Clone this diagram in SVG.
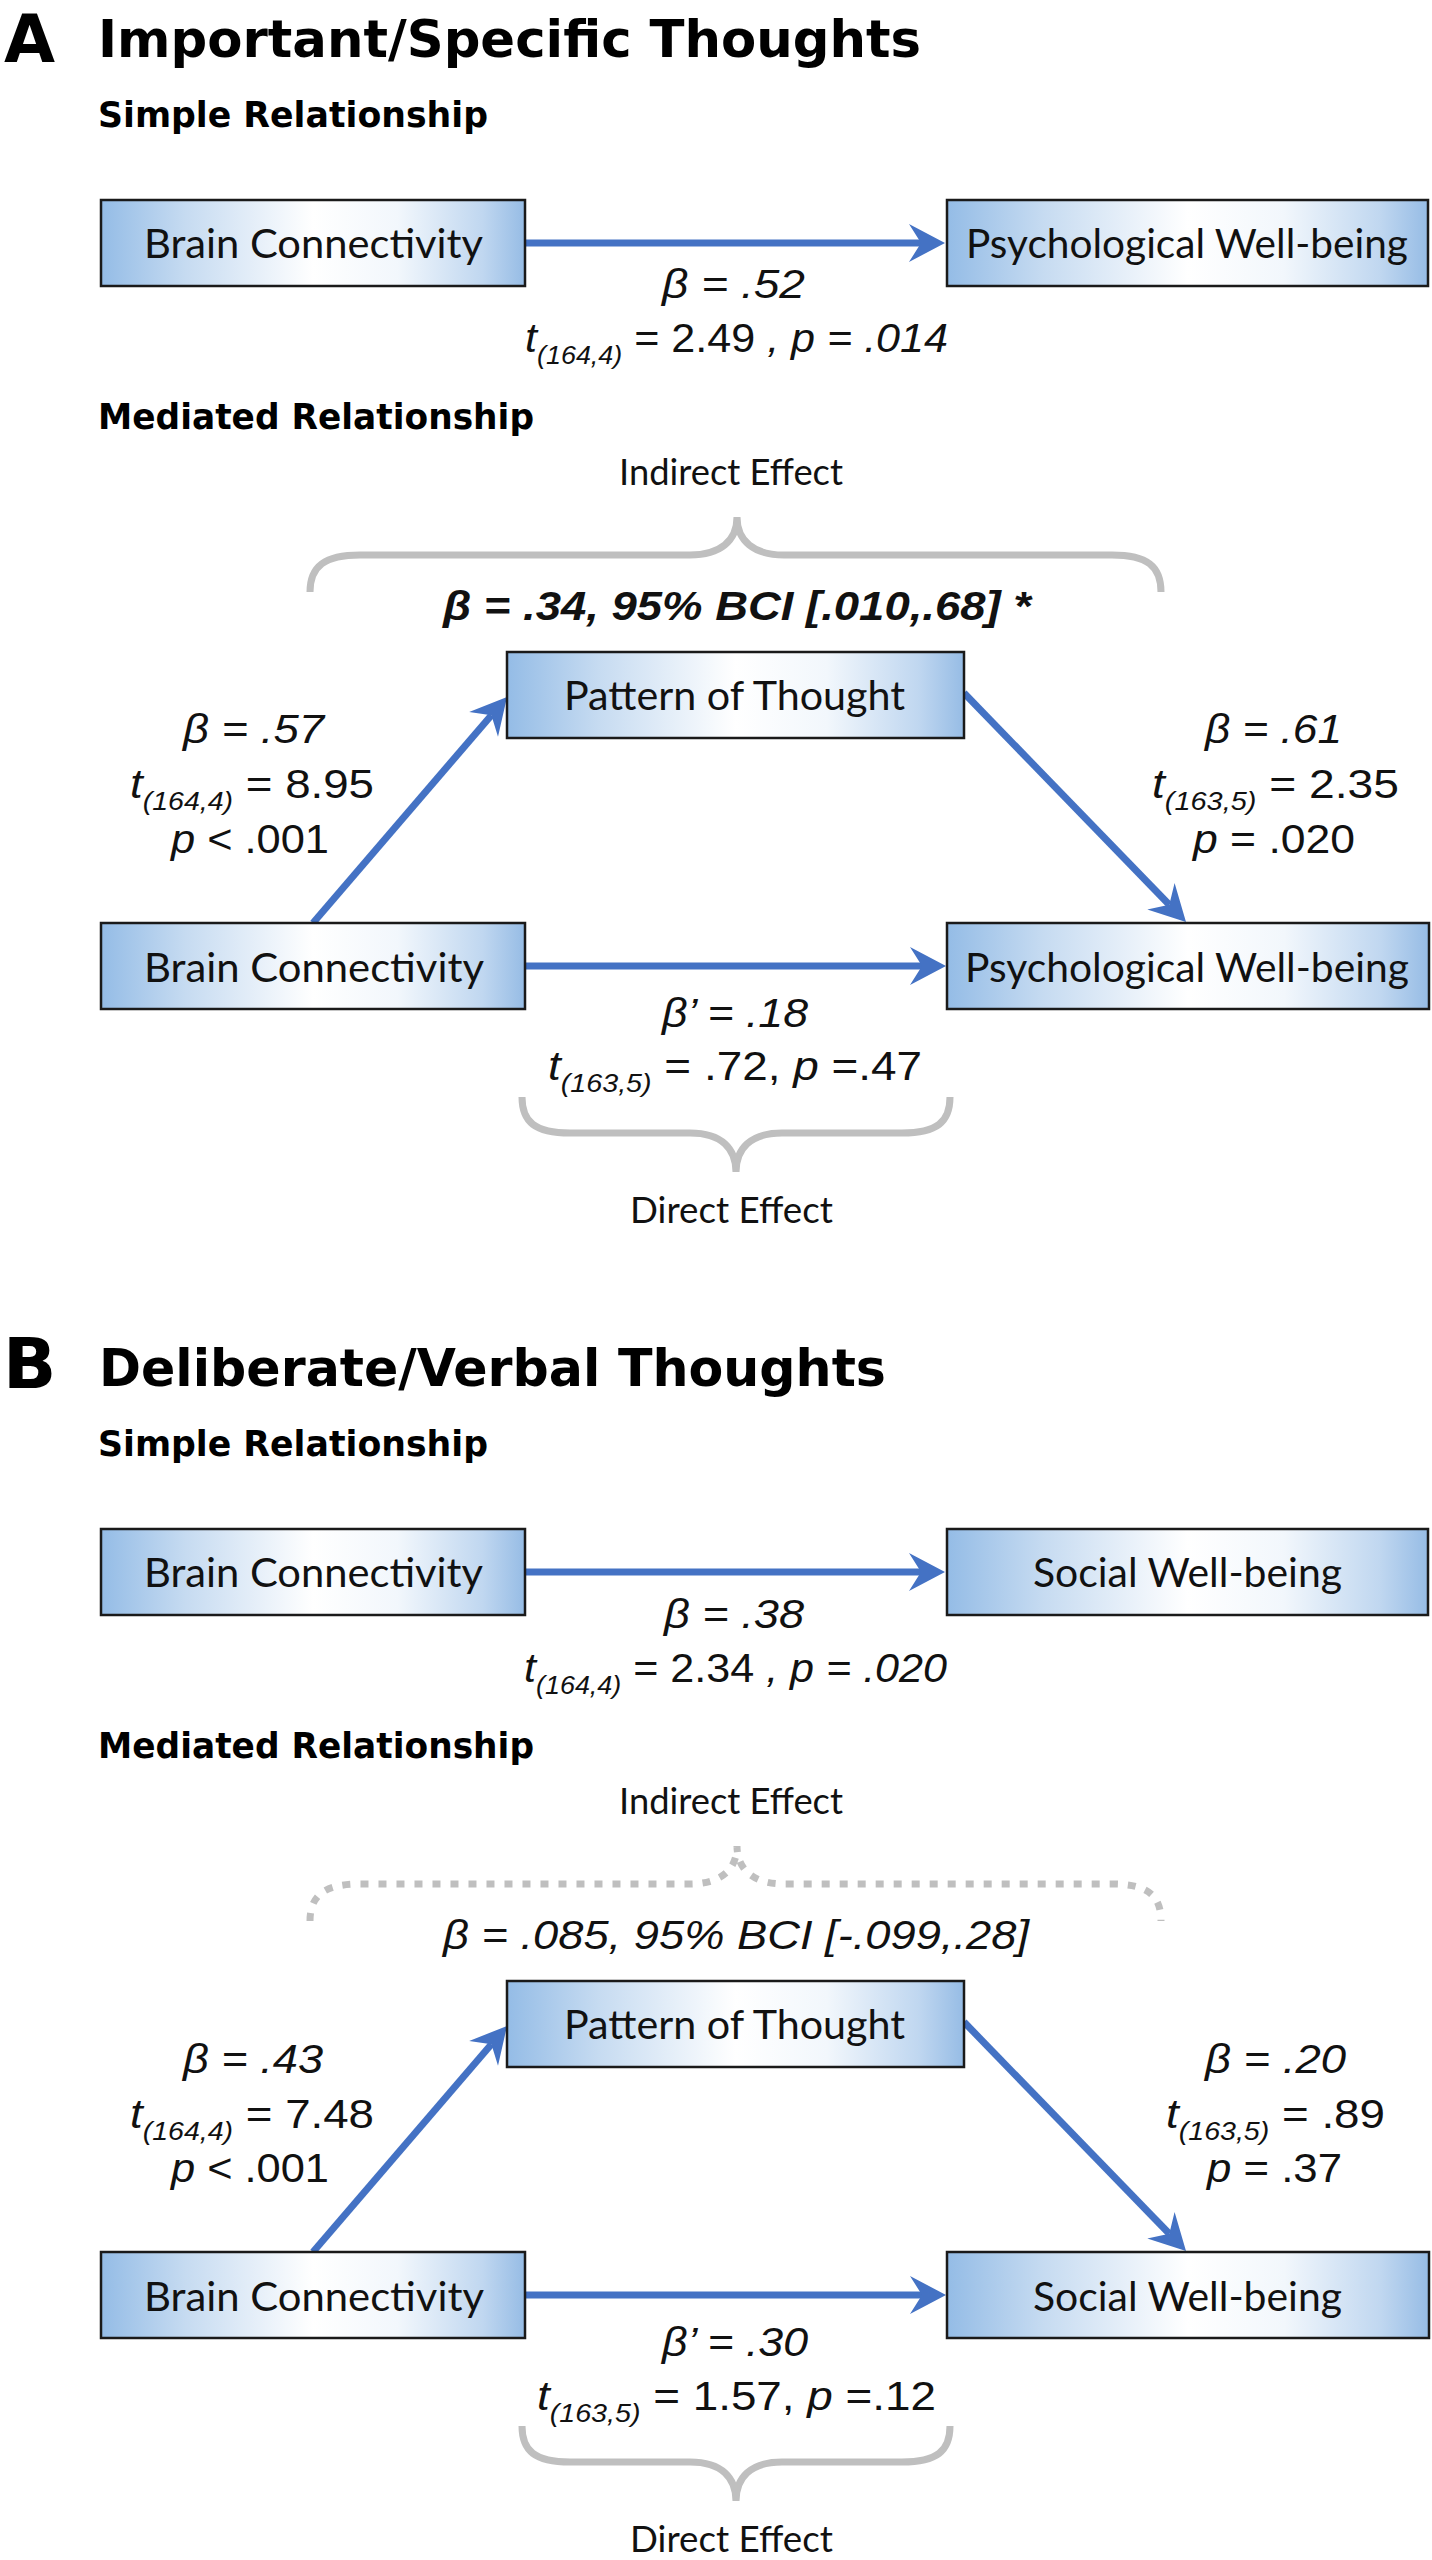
<svg xmlns="http://www.w3.org/2000/svg" width="1432" height="2560" viewBox="0 0 1432 2560">
<style>
.panel{font-family:"DejaVu Sans",Verdana,sans-serif;font-weight:bold;fill:#000}
.sect{font-family:"DejaVu Sans",Verdana,sans-serif;font-weight:bold;font-size:36px;fill:#000}
.lbl{font-family:Lato,"Open Sans",sans-serif;font-size:40px;fill:#111}
.eff{font-family:Lato,"Open Sans",sans-serif;font-size:37px;fill:#111}
.stat{font-family:"Liberation Sans",Arial,sans-serif;font-size:40px;fill:#111}
.it{font-style:italic}
.sub{font-size:25px;font-style:italic}
.box{fill:url(#boxgrad);stroke:#1a1a1a;stroke-width:2.5}
.arrow{stroke:#4472c4;stroke-width:7;fill:none;marker-end:url(#ah)}
.brace{stroke:#bfbfbf;stroke-width:7;fill:none;stroke-linecap:butt}
.dotted{stroke-dasharray:8 10}
</style>
<defs>
<linearGradient id="boxgrad" x1="0" y1="0" x2="1" y2="0">
<stop offset="0" stop-color="#94bce6"/>
<stop offset="0.2" stop-color="#c6dbf1"/>
<stop offset="0.5" stop-color="#ffffff"/>
<stop offset="0.7" stop-color="#f2f7fc"/>
<stop offset="0.9" stop-color="#c0d7f0"/>
<stop offset="1" stop-color="#96bce5"/>
</linearGradient>
<marker id="ah" viewBox="-38 -20 40 40" refX="-24" refY="0" markerWidth="40" markerHeight="40" markerUnits="userSpaceOnUse" orient="auto">
<path d="M0,0 L-36,-19 L-24,0 L-36,19 Z" fill="#4472c4"/>
</marker>
</defs>
<rect width="1432" height="2560" fill="#fff"/>

<!-- ===== Panel A ===== -->
<g id="panelA-heading">
<text class="panel" x="4" y="62" font-size="66">A</text>
<text class="panel" x="98" y="57" font-size="52" textLength="823" lengthAdjust="spacingAndGlyphs">Important/Specific Thoughts</text>
<text class="sect" x="98" y="127" textLength="390" lengthAdjust="spacingAndGlyphs">Simple Relationship</text>
<text class="sect" x="98" y="429" textLength="436" lengthAdjust="spacingAndGlyphs">Mediated Relationship</text>
</g>

<g id="connectorsA">
<line class="arrow" x1="525" y1="243" x2="921" y2="243"/>
<line class="arrow" x1="313" y1="923" x2="491.4" y2="715.2"/>
<line class="arrow" x1="964" y1="693" x2="1169.3" y2="904.8"/>
<line class="arrow" x1="525" y1="966" x2="922" y2="966"/>
<path class="brace" d="M310,592 C310,566 325,555 360,555 L690,555 C720,555 737,541 737,517 C737,541 754,555 784,555 L1112,555 C1147,555 1161,566 1161,592"/>
<path class="brace" d="M522,1097 C522,1122 535,1133 570,1133 L690,1133 C722,1133 736,1149 736,1172 C736,1149 750,1133 782,1133 L902,1133 C937,1133 950,1122 950,1097"/>
</g>

<g id="A-simple-bc">
<rect class="box" x="101" y="200" width="424" height="86"/>
<text class="lbl" x="144" y="258" textLength="339" lengthAdjust="spacingAndGlyphs">Brain Connectivity</text>
</g>
<g id="A-simple-pwb">
<rect class="box" x="947" y="200" width="481" height="86"/>
<text class="lbl" x="966" y="258" textLength="442" lengthAdjust="spacingAndGlyphs">Psychological Well-being</text>
</g>
<g id="A-simple-stats">
<text class="stat it" x="662" y="298" textLength="143" lengthAdjust="spacingAndGlyphs">β = .52</text>
<text class="stat" x="525" y="352" textLength="423" lengthAdjust="spacingAndGlyphs"><tspan class="it">t</tspan><tspan class="sub" dy="12">(164,4)</tspan><tspan dy="-12"> = 2.49 </tspan><tspan class="it">, p = .014</tspan></text>
</g>

<g id="A-indirect">
<text class="eff" x="619" y="485" textLength="224" lengthAdjust="spacingAndGlyphs">Indirect Effect</text>
<text class="stat it" x="443" y="620" font-weight="bold" font-size="42" textLength="588" lengthAdjust="spacingAndGlyphs">β = .34, 95% BCI [.010,.68] *</text>
</g>

<g id="A-pattern">
<rect class="box" x="507" y="652" width="457" height="86"/>
<text class="lbl" x="564" y="710" textLength="341" lengthAdjust="spacingAndGlyphs">Pattern of Thought</text>
</g>
<g id="A-path-a">
<text class="stat it" x="183" y="743" textLength="141" lengthAdjust="spacingAndGlyphs">β = .57</text>
<text class="stat" x="130" y="798" textLength="244" lengthAdjust="spacingAndGlyphs"><tspan class="it">t</tspan><tspan class="sub" dy="12">(164,4)</tspan><tspan dy="-12"> = 8.95</tspan></text>
<text class="stat" x="171" y="853" textLength="158" lengthAdjust="spacingAndGlyphs"><tspan class="it">p</tspan> &lt; .001</text>
</g>
<g id="A-path-b">
<text class="stat it" x="1205" y="743" textLength="137" lengthAdjust="spacingAndGlyphs">β = .61</text>
<text class="stat" x="1152" y="798" textLength="247" lengthAdjust="spacingAndGlyphs"><tspan class="it">t</tspan><tspan class="sub" dy="12">(163,5)</tspan><tspan dy="-12"> = 2.35</tspan></text>
<text class="stat" x="1193" y="853" textLength="162" lengthAdjust="spacingAndGlyphs"><tspan class="it">p</tspan> = .020</text>
</g>
<g id="A-med-bc">
<rect class="box" x="101" y="923" width="424" height="86"/>
<text class="lbl" x="144" y="982" textLength="340" lengthAdjust="spacingAndGlyphs">Brain Connectivity</text>
</g>
<g id="A-med-pwb">
<rect class="box" x="947" y="923" width="482" height="86"/>
<text class="lbl" x="965" y="982" textLength="444" lengthAdjust="spacingAndGlyphs">Psychological Well-being</text>
</g>
<g id="A-direct">
<text class="stat it" x="662" y="1027" textLength="146" lengthAdjust="spacingAndGlyphs">β’ = .18</text>
<text class="stat" x="548" y="1080" textLength="374" lengthAdjust="spacingAndGlyphs"><tspan class="it">t</tspan><tspan class="sub" dy="12">(163,5)</tspan><tspan dy="-12"> = .72, </tspan><tspan class="it">p</tspan> =.47</text>
<text class="eff" x="630" y="1223" textLength="203" lengthAdjust="spacingAndGlyphs">Direct Effect</text>
</g>

<!-- ===== Panel B ===== -->
<g id="panelB-heading">
<text class="panel" x="3" y="1388" font-size="70">B</text>
<text class="panel" x="99" y="1386" font-size="52" textLength="787" lengthAdjust="spacingAndGlyphs">Deliberate/Verbal Thoughts</text>
<text class="sect" x="98" y="1456" textLength="390" lengthAdjust="spacingAndGlyphs">Simple Relationship</text>
<text class="sect" x="98" y="1758" textLength="436" lengthAdjust="spacingAndGlyphs">Mediated Relationship</text>
</g>

<g id="connectorsB">
<line class="arrow" x1="525" y1="1572" x2="921" y2="1572"/>
<line class="arrow" x1="313" y1="2252" x2="491.4" y2="2044.2"/>
<line class="arrow" x1="964" y1="2022" x2="1169.3" y2="2233.8"/>
<line class="arrow" x1="525" y1="2295" x2="922" y2="2295"/>
<path class="brace dotted" d="M310,1921 C310,1895 325,1884 360,1884 L690,1884 C720,1884 737,1870 737,1846 C737,1870 754,1884 784,1884 L1112,1884 C1147,1884 1161,1895 1161,1921"/>
<path class="brace" d="M522,2426 C522,2451 535,2462 570,2462 L690,2462 C722,2462 736,2478 736,2501 C736,2478 750,2462 782,2462 L902,2462 C937,2462 950,2451 950,2426"/>
</g>

<g id="B-simple-bc">
<rect class="box" x="101" y="1529" width="424" height="86"/>
<text class="lbl" x="144" y="1587" textLength="339" lengthAdjust="spacingAndGlyphs">Brain Connectivity</text>
</g>
<g id="B-simple-swb">
<rect class="box" x="947" y="1529" width="481" height="86"/>
<text class="lbl" x="1033" y="1587" textLength="309" lengthAdjust="spacingAndGlyphs">Social Well-being</text>
</g>
<g id="B-simple-stats">
<text class="stat it" x="664" y="1628" textLength="140" lengthAdjust="spacingAndGlyphs">β = .38</text>
<text class="stat" x="524" y="1682" textLength="423" lengthAdjust="spacingAndGlyphs"><tspan class="it">t</tspan><tspan class="sub" dy="12">(164,4)</tspan><tspan dy="-12"> = 2.34 </tspan><tspan class="it">, p = .020</tspan></text>
</g>

<g id="B-indirect">
<text class="eff" x="619" y="1814" textLength="224" lengthAdjust="spacingAndGlyphs">Indirect Effect</text>
<text class="stat it" x="443" y="1949" font-size="42" textLength="586" lengthAdjust="spacingAndGlyphs">β = .085, 95% BCI [-.099,.28]</text>
</g>

<g id="B-pattern">
<rect class="box" x="507" y="1981" width="457" height="86"/>
<text class="lbl" x="564" y="2039" textLength="341" lengthAdjust="spacingAndGlyphs">Pattern of Thought</text>
</g>
<g id="B-path-a">
<text class="stat it" x="183" y="2073" textLength="140" lengthAdjust="spacingAndGlyphs">β = .43</text>
<text class="stat" x="130" y="2128" textLength="244" lengthAdjust="spacingAndGlyphs"><tspan class="it">t</tspan><tspan class="sub" dy="12">(164,4)</tspan><tspan dy="-12"> = 7.48</tspan></text>
<text class="stat" x="171" y="2182" textLength="158" lengthAdjust="spacingAndGlyphs"><tspan class="it">p</tspan> &lt; .001</text>
</g>
<g id="B-path-b">
<text class="stat it" x="1205" y="2073" textLength="141" lengthAdjust="spacingAndGlyphs">β = .20</text>
<text class="stat" x="1166" y="2128" textLength="219" lengthAdjust="spacingAndGlyphs"><tspan class="it">t</tspan><tspan class="sub" dy="12">(163,5)</tspan><tspan dy="-12"> = .89</tspan></text>
<text class="stat" x="1207" y="2182" textLength="135" lengthAdjust="spacingAndGlyphs"><tspan class="it">p</tspan> = .37</text>
</g>
<g id="B-med-bc">
<rect class="box" x="101" y="2252" width="424" height="86"/>
<text class="lbl" x="144" y="2311" textLength="340" lengthAdjust="spacingAndGlyphs">Brain Connectivity</text>
</g>
<g id="B-med-swb">
<rect class="box" x="947" y="2252" width="482" height="86"/>
<text class="lbl" x="1033" y="2311" textLength="309" lengthAdjust="spacingAndGlyphs">Social Well-being</text>
</g>
<g id="B-direct">
<text class="stat it" x="662" y="2356" textLength="146" lengthAdjust="spacingAndGlyphs">β’ = .30</text>
<text class="stat" x="537" y="2410" textLength="399" lengthAdjust="spacingAndGlyphs"><tspan class="it">t</tspan><tspan class="sub" dy="12">(163,5)</tspan><tspan dy="-12"> = 1.57, </tspan><tspan class="it">p</tspan> =.12</text>
<text class="eff" x="630" y="2552" textLength="203" lengthAdjust="spacingAndGlyphs">Direct Effect</text>
</g>
</svg>
